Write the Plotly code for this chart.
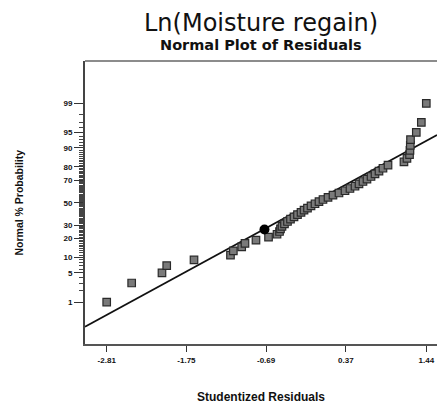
from statistics import NormalDist
import plotly.graph_objects as go

ND = NormalDist()

# Studentized residuals (sorted)
residuals = [-2.81, -2.478, -2.075, -2.012, -1.649, -1.164, -1.126, -1.015, -0.971, -0.825,
             -0.658, -0.545, -0.512, -0.499, -0.479, -0.446, -0.406, -0.366, -0.319, -0.273,
             -0.226, -0.186, -0.140, -0.093, -0.040, 0.013, 0.066, 0.133, 0.199, 0.279,
             0.359, 0.425, 0.492, 0.545, 0.598, 0.651, 0.705, 0.758, 0.811, 0.864,
             0.931, 1.143, 1.183, 1.217, 1.223, 1.227, 1.230, 1.307, 1.374, 1.44]
# Normal % probability of each ranked residual
probabilities = [1, 3, 5, 7, 9, 11, 13, 15, 17, 19,
                 21, 23, 25, 27, 29, 31, 33, 35, 37, 39,
                 41, 43, 45, 47, 49, 51, 53, 55, 57, 59,
                 61, 63, 65, 67, 69, 71, 73, 75, 77, 79,
                 81, 83, 85, 87, 89, 91, 93, 95, 97, 99]

# highlighted point (black circle)
highlight_x = [-0.712]
highlight_p = [26.5]

# reference line parameters (mean, sd)
line_mean = -0.07
line_sd = 1.043

x_tick_vals = [-2.81, -1.75, -0.69, 0.37, 1.44]
x_tick_text = ["-2.81", "-1.75", "-0.69", "0.37", "1.44"]
y_tick_pct = [1, 5, 10, 20, 30, 50, 70, 80, 90, 95, 99]
y_minor_pct = [p for p in range(1, 100) if p not in y_tick_pct]

x_range = [-3.0986, 1.5823]
y_range = [-3.309, 3.318]


def z(p):
    return ND.inv_cdf(p / 100.0)


fig = go.Figure()

line_x = x_range
line_z = [(v - line_mean) / line_sd for v in line_x]
fig.add_trace(go.Scatter(x=line_x, y=line_z, mode="lines",
                         line=dict(color="#111111", width=1.8),
                         hoverinfo="skip", showlegend=False))

fig.add_trace(go.Scatter(x=residuals, y=[z(p) for p in probabilities], mode="markers",
                         marker=dict(symbol="square", size=7.5, color="#7a7a7a",
                                     line=dict(color="#2a2a2a", width=1.2)),
                         showlegend=False))

fig.add_trace(go.Scatter(x=highlight_x, y=[z(p) for p in highlight_p], mode="markers",
                         marker=dict(symbol="circle", size=10, color="#000000"),
                         showlegend=False))

tickfont = dict(family="Liberation Sans, Arial", size=8, color="#111111", weight="bold")

fig.update_layout(
    width=437, height=403,
    margin=dict(l=85, r=0, t=61, b=59, autoexpand=False),
    paper_bgcolor="white", plot_bgcolor="white",
    xaxis=dict(range=x_range, tickmode="array", tickvals=x_tick_vals, ticktext=x_tick_text,
               ticks="outside", ticklen=6, tickwidth=1.2, tickcolor="#333333",
               showgrid=False, zeroline=False, showline=True, linecolor="#555555",
               linewidth=1.5, mirror=False, tickfont=tickfont, automargin=False,
               ticklabelstandoff=2),
    yaxis=dict(range=y_range, tickmode="array", tickvals=[z(p) for p in y_tick_pct],
               ticktext=[str(p) for p in y_tick_pct],
               ticks="outside", ticklen=9, tickwidth=1.2, tickcolor="#333333",
               minor=dict(tickmode="array", tickvals=[z(p) for p in y_minor_pct],
                          ticks="outside", ticklen=4, tickwidth=1, tickcolor="#444444",
                          showgrid=False),
               showgrid=False, zeroline=False, showline=True, linecolor="#444444",
               linewidth=2, tickfont=tickfont, automargin=False),
    shapes=[dict(type="line", xref="paper", yref="paper", x0=0, x1=1, y0=1, y1=1,
                 line=dict(color="#666666", width=1.5))],
    annotations=[
        dict(text="Ln(Moisture regain)", xref="paper", yref="paper", x=0.5, y=1,
             yshift=38, xanchor="center", yanchor="middle", showarrow=False,
             font=dict(family="DejaVu Sans", size=24, color="#111111")),
        dict(text="Normal Plot of Residuals", xref="paper", yref="paper", x=0.5, y=1,
             yshift=16, xanchor="center", yanchor="middle", showarrow=False,
             font=dict(family="DejaVu Sans", size=14.5, color="#111111",
                       weight="bold")),
        dict(text="Studentized Residuals", xref="paper", yref="paper", x=0.5, y=0,
             yshift=-53, xanchor="center", yanchor="middle", showarrow=False,
             font=dict(family="Liberation Sans, Arial", size=12, color="#111111",
                       weight="bold")),
        dict(text="Normal % Probability", xref="paper", yref="paper", x=0, y=0.5,
             xshift=-67, xanchor="center", yanchor="middle", showarrow=False,
             textangle=-90,
             font=dict(family="Liberation Sans, Arial", size=10.5, color="#111111",
                       weight="bold")),
    ],
)

fig.write_html("out.html", config={"displayModeBar": False},
               post_script="document.body.style.margin='0';")
